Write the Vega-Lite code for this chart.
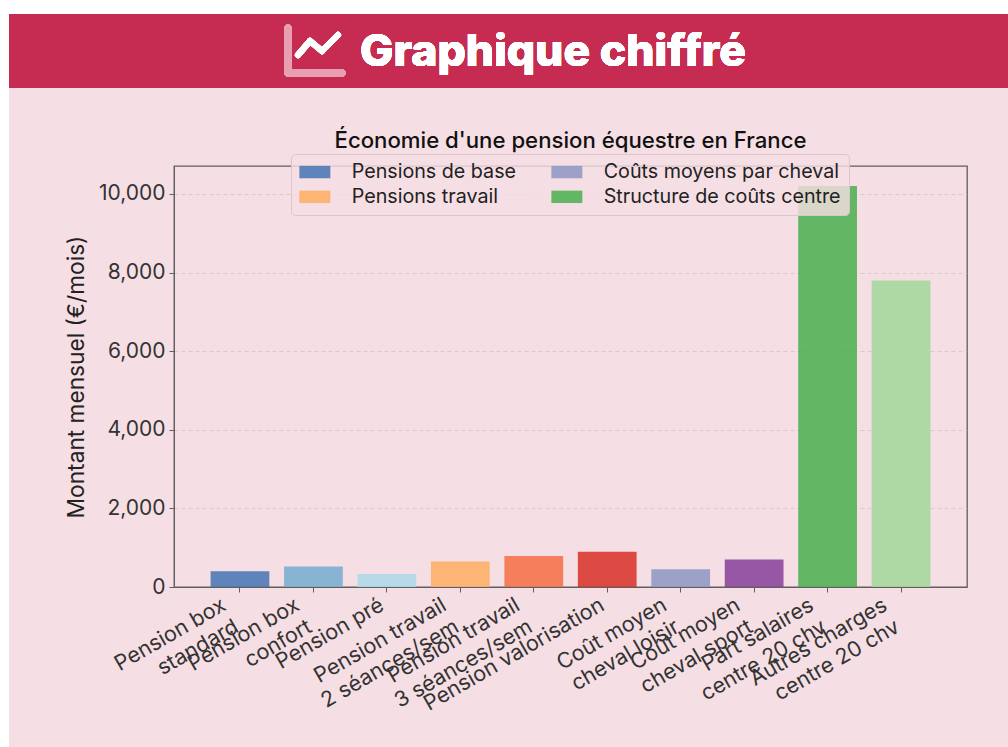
{
"$schema":"https://vega.github.io/schema/vega-lite/v6.json",
"width":793,"height":421,
"autosize":{"type":"none"},
"padding":{"left":174,"top":166,"right":41,"bottom":160},
"background":"#F6DFE4",
"config":{"font":"Inter","view":{"stroke":"#5F5F5F","strokeWidth":1.3}},
"title":{"text":"Économie d'une pension équestre en France","fontSize":22.2,"fontWeight":500,"color":"#111111","anchor":"middle","offset":0,"dy":170,"baseline":"alphabetic","font":"Inter"},
"data":{"values":[
{"label":"Pension box\nstandard","group":"Pensions de base","value":400},
{"label":"Pension box\nconfort","group":"Pensions de base","value":520},
{"label":"Pension pré","group":"Pensions de base","value":330},
{"label":"Pension travail\n2 séances/sem","group":"Pensions travail","value":650},
{"label":"Pension travail\n3 séances/sem","group":"Pensions travail","value":790},
{"label":"Pension valorisation","group":"Pensions travail","value":900},
{"label":"Coût moyen\ncheval loisir","group":"Coûts moyens par cheval","value":450},
{"label":"Coût moyen\ncheval sport","group":"Coûts moyens par cheval","value":700},
{"label":"Part salaires\ncentre 20 chv","group":"Structure de coûts centre","value":10200},
{"label":"Autres charges\ncentre 20 chv","group":"Structure de coûts centre","value":7800}
]},
"layer":[
{"layer":[
{"mark":{"type":"rect","fill":"#FFFFFF","clip":false},"encoding":{
 "x":{"datum":0,"type":"quantitative","scale":{"domain":[0,1008],"range":[-174,834],"nice":false,"zero":false},"axis":null},"x2":{"datum":1008},
 "y":{"datum":0,"type":"quantitative","scale":{"domain":[0,747],"range":[-166,581],"nice":false,"zero":false},"axis":null},"y2":{"datum":14}}},
{"mark":{"type":"rect","fill":"#FFFFFF","clip":false},"encoding":{
 "x":{"datum":0,"type":"quantitative","axis":null},"x2":{"datum":9},
 "y":{"datum":0,"type":"quantitative","axis":null},"y2":{"datum":747}}},
{"mark":{"type":"rect","fill":"#C62B52","clip":false},"encoding":{
 "x":{"datum":9,"type":"quantitative","axis":null},"x2":{"datum":1008},
 "y":{"datum":14,"type":"quantitative","axis":null},"y2":{"datum":88}}},
{"mark":{"type":"rule","stroke":"#E89FB2","strokeWidth":7,"strokeCap":"round"},"encoding":{
 "x":{"datum":288,"type":"quantitative","axis":null},"x2":{"datum":288},
 "y":{"datum":28,"type":"quantitative","axis":null},"y2":{"datum":73}}},
{"mark":{"type":"rule","stroke":"#E89FB2","strokeWidth":7,"strokeCap":"round"},"encoding":{
 "x":{"datum":288,"type":"quantitative","axis":null},"x2":{"datum":342},
 "y":{"datum":73,"type":"quantitative","axis":null},"y2":{"datum":73}}},
{"mark":{"type":"rule","stroke":"#FFFFFF","strokeWidth":6,"strokeCap":"round"},"encoding":{
 "x":{"datum":298,"type":"quantitative","axis":null},"x2":{"datum":310},
 "y":{"datum":55,"type":"quantitative","axis":null},"y2":{"datum":41}}},
{"mark":{"type":"rule","stroke":"#FFFFFF","strokeWidth":6,"strokeCap":"round"},"encoding":{
 "x":{"datum":310,"type":"quantitative","axis":null},"x2":{"datum":322},
 "y":{"datum":41,"type":"quantitative","axis":null},"y2":{"datum":51}}},
{"mark":{"type":"rule","stroke":"#FFFFFF","strokeWidth":6,"strokeCap":"round"},"encoding":{
 "x":{"datum":322,"type":"quantitative","axis":null},"x2":{"datum":338},
 "y":{"datum":51,"type":"quantitative","axis":null},"y2":{"datum":35}}},
{"mark":{"type":"text","text":"Graphique chiffré","align":"left","baseline":"alphabetic","fontSize":44.5,"fontWeight":800,"color":"#FFFFFF","font":"Inter"},"encoding":{
 "x":{"datum":360,"type":"quantitative","axis":null},
 "y":{"datum":66,"type":"quantitative","axis":null}}}
]},
{"layer":[
{"mark":{"type":"bar","opacity":0.85},"encoding":{
 "x":{"field":"label","type":"nominal","sort":null,"scale":{"paddingInner":0.2,"paddingOuter":0.498},
  "axis":{"title":null,"labelExpr":"split(datum.label,'\\n')","labelAngle":-30,"labelAlign":"right","labelBaseline":"top","labelFontSize":21.5,"labelLineHeight":25,"labelLimit":400,"labelOffset":{"condition":{"test":"indexof(datum.value,'\\n')<0","value":-10},"value":-21},"labelColor":"#333333","labelOverlap":false,"labelBound":false,"labelFlush":false,"labelPadding":2,"tickColor":"#5F5F5F","tickSize":5,"domainColor":"#5F5F5F","grid":false}},
 "y":{"field":"value","type":"quantitative","scale":{"domain":[0,10712],"nice":false},
  "axis":{"title":"Montant mensuel (€/mois)","titleFontSize":22.7,"titleFontWeight":400,"titleColor":"#222222","titlePadding":10,"labelExpr":"format(datum.value,',')","values":[0,2000,4000,6000,8000,10000],"labelFontSize":21,"labelColor":"#333333","labelPadding":4,"tickColor":"#5F5F5F","tickSize":5,"domainColor":"#5F5F5F","grid":true,"gridColor":"#C9B4BA","gridDash":[4,3],"gridOpacity":0.55,"gridWidth":1}},
 "color":{"field":"label","type":"nominal","sort":null,"legend":null,"scale":{"range":["#4474B5","#74ADD1","#ABD9E9","#FDAE61","#F46D43","#D73027","#8D96C3","#873F99","#49AF4C","#A1D899"]}}}},
{"mark":{"type":"bar","opacity":0},"encoding":{
 "x":{"field":"label","type":"nominal","sort":null},
 "y":{"field":"value","type":"quantitative"},
 "color":{"field":"group","type":"nominal","scale":{"domain":["Pensions de base","Pensions travail","Coûts moyens par cheval","Structure de coûts centre"],"range":["#4474B5","#FDAE61","#8D96C3","#49AF4C"]},
  "legend":{"title":null,"orient":"none","legendX":117,"legendY":-12,"columns":2,"columnPadding":34,"rowPadding":4,"padding":8,"fillColor":"rgba(246,223,228,0.8)","strokeColor":"#DCC6CC","cornerRadius":4,"labelFontSize":19.7,"labelLimit":400,"labelColor":"#222222","labelOffset":27,"symbolType":"M-2,-0.8H2V0.8H-2Z","symbolSize":240,"symbolOffset":6,"symbolOpacity":0.85,"symbolStrokeWidth":0,"symbolLimit":0}}}}
],"resolve":{"scale":{"color":"independent"}}}
],
"resolve":{"scale":{"x":"independent","y":"independent"}}
}
